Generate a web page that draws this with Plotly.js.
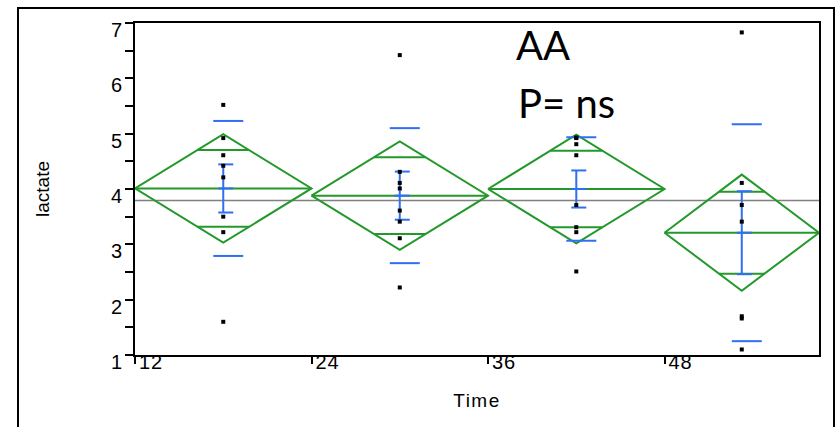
<!DOCTYPE html>
<html>
<head>
<meta charset="utf-8">
<script src="https://cdn.plot.ly/plotly-3.0.1.min.js"></script>
<style>
  html, body { margin: 0; padding: 0; background: #fff; }
  #chart { width: 838px; height: 427px; }
  #chart .xtick text { letter-spacing: 1px; }
  #chart .xtitle { letter-spacing: 1.5px; }
</style>
</head>
<body>
<div id="chart"></div>
<script>
// ---- data ----
const groups = ['12', '24', '36', '48'];          // Time categories (tick labels)
const groupSize = [8, 8, 8, 7];                    // n per group (x widths proportional)
const obs12 = [5.52, 4.92, 4.61, 4.42, 4.21, 3.50, 3.22, 1.60];
const obs24 = [6.42, 4.31, 4.11, 4.01, 3.61, 3.41, 3.11, 2.22];
const obs36 = [4.93, 4.92, 4.81, 4.61, 3.71, 3.31, 3.22, 2.51];
const obs48 = [6.83, 4.11, 3.71, 3.41, 1.70, 1.66, 1.10];
const groupMean = [4.01, 3.88, 4.00, 3.21];
const ciHalf = [0.98, 0.98, 0.98, 1.05];           // 95% CI half-width (diamond)
const stdDev = [1.22, 1.22, 0.935, 1.96];
const stdErr = [0.435, 0.435, 0.335, 0.75];
const grandMean = 3.79;
const yTickVals = [1, 2, 3, 4, 5, 6, 7];
const annotationTexts = ['AA', 'P= ns'];

// ---- build geometry through the axes ----
const observations = [obs12, obs24, obs36, obs48];
const bounds = [0];
groupSize.forEach(n => bounds.push(bounds[bounds.length - 1] + n));
const xMax = bounds[bounds.length - 1];
const plotW = 684;
const pxu = xMax / plotW;  // data units per pixel

const gx = [], gy = [];
const bx = [], by = [];
const px = [], py = [];
const tickVals = [];
groups.forEach((g, i) => {
  const x0 = bounds[i], x1 = bounds[i + 1], xc = (x0 + x1) / 2;
  const m = groupMean[i], ci = ciHalf[i];
  tickVals.push(x0);
  // diamond
  gx.push(x0, xc, x1, xc, x0, null);
  gy.push(m, m + ci, m, m - ci, m, null);
  // mean line
  gx.push(x0, x1, null); gy.push(m, m, null);
  // overlap marks
  const d = ci / Math.SQRT2;
  const hw = (x1 - x0) / 2 * (1 - d / ci);
  [m + d, m - d].forEach(yy => { gx.push(xc - hw, xc + hw, null); gy.push(yy, yy, null); });
  // error bar (mean ± SE)
  const s = stdErr[i];
  bx.push(xc, xc, null); by.push(m - s, m + s, null);
  [m - s, m, m + s].forEach(yy => { bx.push(xc - 5 * pxu, xc + 10 * pxu, null); by.push(yy, yy, null); });
  // std dev lines
  const sd = stdDev[i];
  [m - sd, m + sd].forEach(yy => { bx.push(xc - 10 * pxu, xc + 20 * pxu, null); by.push(yy, yy, null); });
  // points
  observations[i].forEach(v => { px.push(xc); py.push(v); });
});

const traces = [
  { type: 'scatter', mode: 'lines', x: [0, xMax], y: [grandMean, grandMean],
    line: { color: '#808080', width: 1.5 }, hoverinfo: 'skip', showlegend: false },
  { type: 'scatter', mode: 'lines', x: gx, y: gy,
    line: { color: '#23992b', width: 2 }, hoverinfo: 'skip', showlegend: false },
  { type: 'scatter', mode: 'lines', x: bx, y: by,
    line: { color: '#2f6ff2', width: 2 }, hoverinfo: 'skip', showlegend: false },
  { type: 'scatter', mode: 'markers', x: px, y: py,
    marker: { symbol: 'square', size: 4, color: '#000' }, showlegend: false }
];

const tickFont = { family: 'Liberation Sans, Arial, sans-serif', size: 20, color: '#000' };
const titleFont = { family: 'Liberation Sans, Arial, sans-serif', size: 19, color: '#000' };

const layout = {
  width: 838, height: 427,
  margin: { l: 135, r: 19, t: 23, b: 72 },
  paper_bgcolor: '#fff', plot_bgcolor: '#fff',
  font: tickFont,
  showlegend: false,
  xaxis: {
    range: [0, xMax], showgrid: false, zeroline: false,
    showline: true, linecolor: '#000', linewidth: 2, mirror: true,
    tickmode: 'array', tickvals: tickVals, ticktext: groups,
    ticks: 'outside', ticklen: 7, tickwidth: 2, tickcolor: '#000',
    ticklabelshift: 16, ticklabelstandoff: -19,
    tickfont: tickFont,
    title: { text: 'Time', font: titleFont, standoff: 22 }
  },
  yaxis: {
    range: [1, 7], showgrid: false, zeroline: false,
    showline: true, linecolor: '#000', linewidth: 2, mirror: true,
    tickmode: 'array', tickvals: yTickVals,
    ticks: 'outside', ticklen: 8, tickwidth: 2, tickcolor: '#000',
    minor: { dtick: 0.5, ticks: 'outside', ticklen: 8, tickwidth: 2, tickcolor: '#000', showgrid: false },
    ticklabelshift: 7, ticklabelstandoff: -1,
    tickfont: tickFont,
    title: { text: 'lactate', font: titleFont, standoff: 56 }
  },
  annotations: [
    { text: annotationTexts[0], xref: 'paper', yref: 'paper', x: (514 - 135) / 684, y: (355 - 45) / 332,
      xanchor: 'left', yanchor: 'middle', showarrow: false,
      font: { family: 'Lato, Carlito, Calibri, sans-serif', size: 40, color: '#000' } },
    { text: annotationTexts[1], xref: 'paper', yref: 'paper', x: (516 - 135) / 684, y: (355 - 103) / 332,
      xanchor: 'left', yanchor: 'middle', showarrow: false,
      font: { family: 'Lato, Carlito, Calibri, sans-serif', size: 40, color: '#000' } }
  ],
  shapes: [
    { type: 'rect', xref: 'paper', yref: 'paper',
      x0: (18 - 135) / 684, x1: (834 - 135) / 684, y0: (355 - 440) / 332, y1: (355 - 8) / 332,
      line: { color: '#000', width: 2 }, fillcolor: 'rgba(0,0,0,0)', layer: 'below' }
  ]
};

Plotly.newPlot('chart', traces, layout, { staticPlot: true, displayModeBar: false });
</script>
</body>
</html>
